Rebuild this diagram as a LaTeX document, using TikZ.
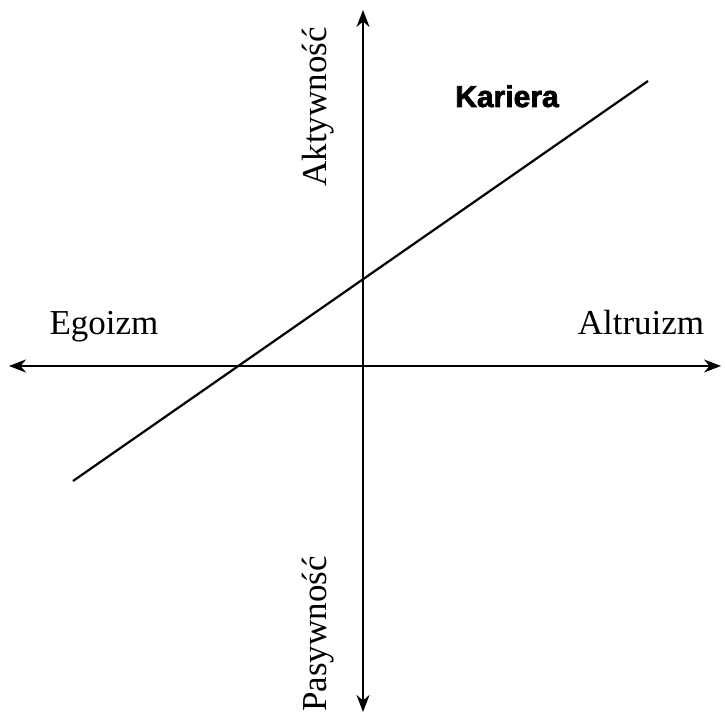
\documentclass[tikz,border=0pt]{standalone}
\usepackage{fontspec}
\setmainfont{Liberation Serif}
\newfontface\headfont[FakeBold=2.5]{Liberation Sans Bold}
\usetikzlibrary{arrows.meta}

\begin{document}
\begin{tikzpicture}[x=1pt, y=1pt,
    axis/.style={line width=2.2pt,
        {Stealth[length=17pt, width=13pt]}-{Stealth[length=17pt, width=13pt]}},
    lab/.style={font=\fontsize{35}{40}\selectfont, anchor=base, inner sep=0pt},
    head/.style={font=\headfont\fontsize{30}{36}\selectfont, anchor=base, inner sep=0pt},
  ]
  \useasboundingbox (0,0) rectangle (725,720);

  % Axis end points
  \coordinate (W) at (9,354);
  \coordinate (E) at (721,354);
  \coordinate (N) at (363,710);
  \coordinate (S) at (363,8);

  % Axes
  \draw[axis] (W) -- (E);
  \draw[axis] (S) -- (N);

  % Diagonal line
  \coordinate (d0) at (73,239);
  \coordinate (d1) at (648,639);
  \draw[line width=2.2pt] (d0) -- (d1);

  % Labels
  \node[lab] (ego) at (104,385) {Egoizm};
  \node[lab] (alt) at (641,385) {Altruizm};
  \node[lab, rotate=90] (akt) at (326,613) {Aktywność};
  \node[lab, rotate=90] (pas) at (326,86) {Pasywność};
  \node[head] (kar) at (507,613) {Kariera};
\end{tikzpicture}
\end{document}
